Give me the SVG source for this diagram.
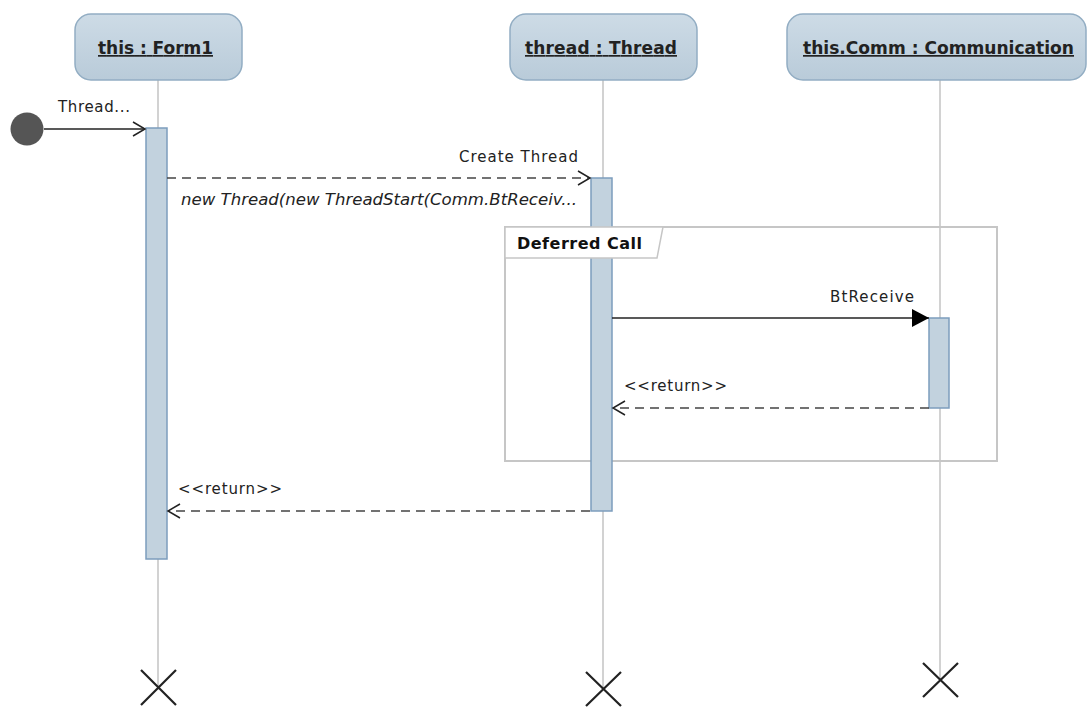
<svg xmlns="http://www.w3.org/2000/svg" width="1087" height="707" viewBox="0 0 1087 707">
<style>
.head{fill:url(#hg);stroke:#92adc3;stroke-width:1.5}
.htxt{font-family:"DejaVu Sans",sans-serif;font-weight:bold;font-size:17px;fill:#222;text-decoration:underline}
.life{stroke:#d2d2d2;stroke-width:2;fill:none}
.act{fill:#c2d2de;stroke:#7c9dbd;stroke-width:1.5}
.lbl{font-family:"DejaVu Sans",sans-serif;font-size:15px;fill:#222}
.msg{stroke:#222;stroke-width:1.5;fill:none}
.dash{stroke:#444;stroke-width:1.6;fill:none;stroke-dasharray:9 6}
.xx{stroke:#222;stroke-width:2.2;fill:none}
.frame{fill:none;stroke:#c6c6c6;stroke-width:2}
</style>
<defs>
<linearGradient id="hg" x1="0" y1="0" x2="0" y2="1">
<stop offset="0" stop-color="#cddbe6"/>
<stop offset="1" stop-color="#b9cbd9"/>
</linearGradient>
<marker id="open" markerWidth="16" markerHeight="16" refX="13" refY="8" orient="auto" markerUnits="userSpaceOnUse">
<path d="M1,1 L13,8 L1,15" fill="none" stroke="#222" stroke-width="1.5"/>
</marker>
<marker id="filled" markerWidth="18" markerHeight="20" refX="17" refY="10" orient="auto" markerUnits="userSpaceOnUse">
<path d="M0,1 L17,10 L0,19 Z" fill="#000"/>
</marker>
</defs>
<rect width="1087" height="707" fill="#fff"/>

<g id="lifelines">
<line class="life" x1="158" y1="80" x2="158" y2="687"/>
<line class="life" x1="603" y1="80" x2="603" y2="688"/>
<line class="life" x1="940" y1="80" x2="940" y2="680"/>
</g>

<g id="frame-deferred">
<rect class="frame" x="505" y="227" width="492" height="234"/>
</g>

<g id="node-form1">
<rect class="head" x="75" y="14" width="167" height="66" rx="16"/>
<text class="htxt" x="98" y="54" textLength="115">this : Form1</text>
<rect class="act" x="146" y="128" width="21" height="431"/>
<path class="xx" d="M141,670 L176,705 M176,670 L141,705"/>
</g>

<g id="node-thread">
<rect class="head" x="510" y="14" width="187" height="66" rx="16"/>
<text class="htxt" x="525" y="54" textLength="152">thread : Thread</text>
<rect class="act" x="591" y="178" width="21" height="333"/>
<path class="xx" d="M586,672 L621,706 M621,672 L586,706"/>
</g>

<g id="node-comm">
<rect class="head" x="787" y="14" width="299" height="66" rx="16"/>
<text class="htxt" x="803" y="54" textLength="271" lengthAdjust="spacingAndGlyphs">this.Comm : Communication</text>
<rect class="act" x="929" y="318" width="20" height="90"/>
<path class="xx" d="M923,663 L958,697 M958,663 L923,697"/>
</g>

<g id="frame-tab">
<path d="M505,227 L663,227 L657,258 L505,258 Z" fill="#fff" stroke="#c6c6c6" stroke-width="1.5"/>
<text x="517" y="249" font-family="DejaVu Sans,sans-serif" font-weight="bold" font-size="16px" fill="#111" textLength="125">Deferred Call</text>
</g>

<g id="node-initial">
<circle cx="27" cy="129" r="16.5" fill="#555"/>
</g>

<g id="connectors">
<line class="msg" x1="44" y1="129" x2="145" y2="129" marker-end="url(#open)"/>
<text class="lbl" x="58" y="112" textLength="72">Thread...</text>

<line class="dash" x1="167" y1="178" x2="590" y2="178" marker-end="url(#open)"/>
<text class="lbl" x="459" y="162" textLength="119">Create Thread</text>
<text class="lbl" x="181" y="205" font-style="italic" textLength="396" lengthAdjust="spacingAndGlyphs">new Thread(new ThreadStart(Comm.BtReceiv...</text>

<line class="msg" x1="612" y1="318" x2="929" y2="318" marker-end="url(#filled)"/>
<text class="lbl" x="830" y="302" textLength="84">BtReceive</text>

<line class="dash" x1="929" y1="408" x2="613" y2="408" marker-end="url(#open)"/>
<text class="lbl" x="624" y="391" textLength="103">&lt;&lt;return&gt;&gt;</text>

<line class="dash" x1="590" y1="511" x2="168" y2="511" marker-end="url(#open)"/>
<text class="lbl" x="178" y="494" textLength="104">&lt;&lt;return&gt;&gt;</text>
</g>
</svg>
